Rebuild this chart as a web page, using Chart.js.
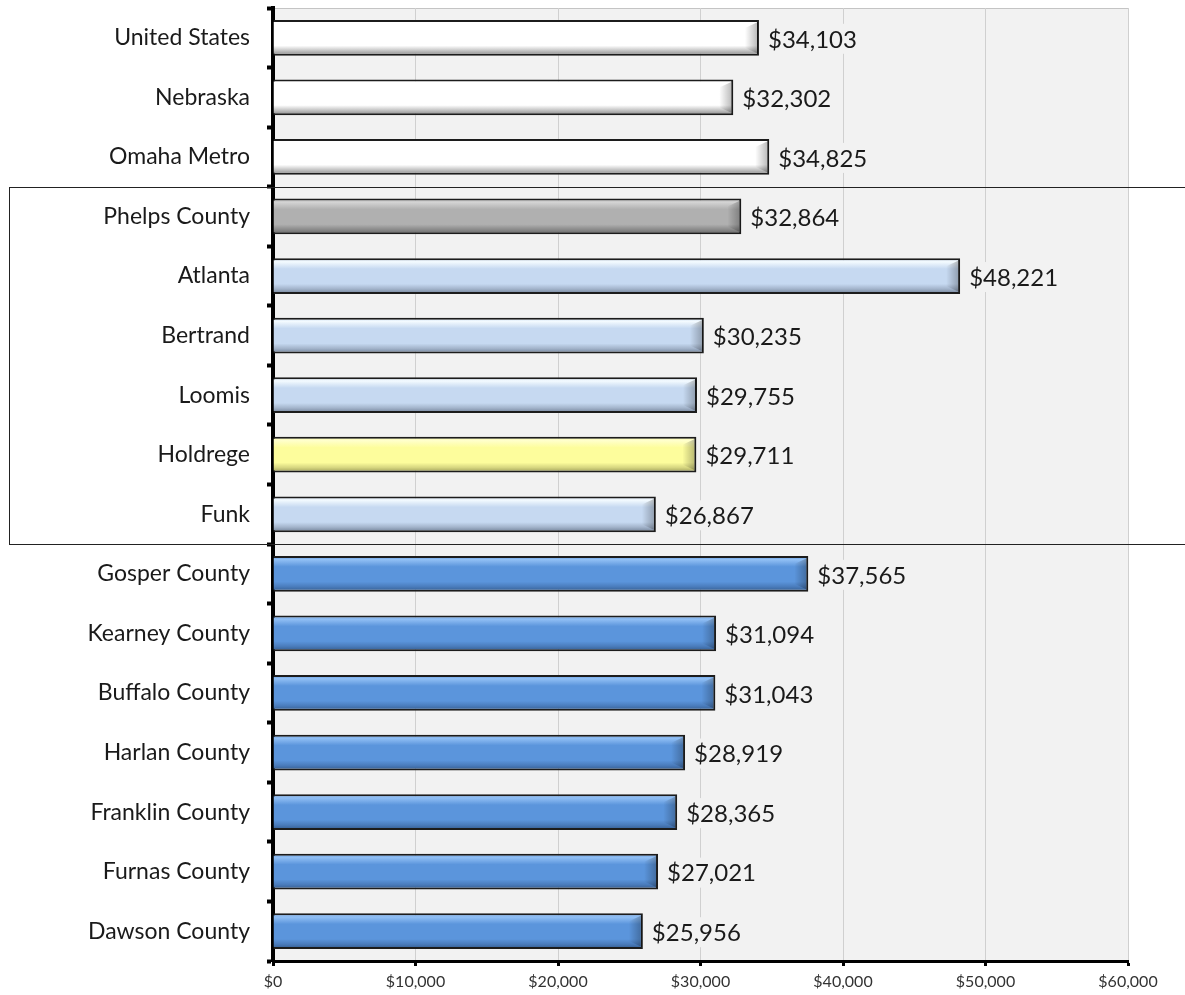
<!DOCTYPE html>
<html>
<head>
<meta charset="utf-8">
<script src="https://cdn.jsdelivr.net/npm/chart.js@4"></script>
<style>
  html, body { margin: 0; padding: 0; background: #fff; }
  #wrap { width: 1185px; height: 995px; }
</style>
</head>
<body>
<div id="wrap"><canvas id="chart" width="1185" height="995"></canvas></div>
<script>
// data
const places = ['United States', 'Nebraska', 'Omaha Metro', 'Phelps County', 'Atlanta', 'Bertrand',
    'Loomis', 'Holdrege', 'Funk', 'Gosper County', 'Kearney County', 'Buffalo County',
    'Harlan County', 'Franklin County', 'Furnas County', 'Dawson County'];
const income = [34103, 32302, 34825, 32864, 48221, 30235, 29755, 29711, 26867,
    37565, 31094, 31043, 28919, 28365, 27021, 25956];
const xTicks = [0, 10000, 20000, 30000, 40000, 50000, 60000];
// which colour group each bar belongs to
const groups = ['white', 'white', 'white', 'gray', 'light', 'light', 'light', 'yellow', 'light',
    'blue', 'blue', 'blue', 'blue', 'blue', 'blue', 'blue'];
// box drawn round the Phelps county places (first and last index)
const boxFrom = 3, boxTo = 8;

const palette = {
    white:  { top: '#ffffff', main: '#ffffff', low: '#c4c4c4', bottom: '#858585' },
    gray:   { top: '#d4d4d4', main: '#b0b0b0', low: '#8c8c8c', bottom: '#666666' },
    light:  { top: '#f4fbff', main: '#c6d9f1', low: '#a3b4cb', bottom: '#6f7f95' },
    yellow: { top: '#ffffcc', main: '#fdfd9c', low: '#d6d680', bottom: '#9a9a55' },
    blue:   { top: '#92c0f5', main: '#5b95dc', low: '#4a7cbc', bottom: '#335a8c' }
};

const FONT = "Lato, 'Open Sans', sans-serif";
const BAR_PCT = 0.6;

function money(v) {
    return '$' + v.toLocaleString('en-US');
}

function barFill(ctx) {
    const chart = ctx.chart;
    const c = palette[groups[ctx.dataIndex]];
    const y = chart.scales && chart.scales.y;
    if (!y || !chart.chartArea) return c.main;
    const center = y.getPixelForValue(ctx.dataIndex);
    const half = y.height / places.length * BAR_PCT / 2;
    const g = chart.ctx.createLinearGradient(0, center - half, 0, center + half);
    g.addColorStop(0, c.main);
    g.addColorStop(0.1, c.top);
    g.addColorStop(0.3, c.main);
    g.addColorStop(0.72, c.main);
    g.addColorStop(0.86, c.low);
    g.addColorStop(1, c.bottom);
    return g;
}

// grey plot background + thin frame
const plotBg = {
    id: 'plotBg',
    beforeDraw(chart) {
        const a = chart.chartArea, ctx = chart.ctx;
        ctx.save();
        ctx.fillStyle = '#f2f2f2';
        ctx.fillRect(a.left, a.top, a.right - a.left, a.bottom - a.top);
        ctx.strokeStyle = '#c4c4c4';
        ctx.lineWidth = 1;
        ctx.beginPath();
        ctx.moveTo(a.left, a.top + 0.5);
        ctx.lineTo(a.right + 0.5, a.top + 0.5);
        ctx.lineTo(a.right + 0.5, a.bottom);
        ctx.stroke();
        ctx.restore();
    }
};

// darker bevel at the right end of each bar, then value labels
const barExtras = {
    id: 'barExtras',
    afterDatasetsDraw(chart) {
        const ctx = chart.ctx;
        const meta = chart.getDatasetMeta(0);
        ctx.save();
        meta.data.forEach((bar, i) => {
            const h = bar.height;
            const top = bar.y - h / 2 + 2, bottom = bar.y + h / 2 - 2;
            const g = ctx.createLinearGradient(bar.x - 14, 0, bar.x - 1, 0);
            g.addColorStop(0, 'rgba(0,0,0,0)');
            g.addColorStop(1, 'rgba(0,0,0,0.28)');
            ctx.fillStyle = g;
            ctx.beginPath();
            ctx.moveTo(bar.x - 14, top + 6);
            ctx.lineTo(bar.x - 1, top);
            ctx.lineTo(bar.x - 1, bottom);
            ctx.lineTo(bar.x - 14, bottom - 6);
            ctx.closePath();
            ctx.fill();

            const txt = money(income[i]);
            ctx.font = '24px ' + FONT;
            const w = ctx.measureText(txt).width;
            const tx = bar.x + 9;
            ctx.fillStyle = '#f2f2f2';
            ctx.fillRect(tx - 2, bar.y - 14, w + 4, 30);
            ctx.fillStyle = '#1a1a1a';
            ctx.textBaseline = 'middle';
            ctx.textAlign = 'left';
            ctx.fillText(txt, tx, bar.y + 2);
        });
        ctx.restore();
    }
};

// black frame round the Phelps county group
const groupBox = {
    id: 'groupBox',
    afterDraw(chart) {
        const y = chart.scales.y, ctx = chart.ctx;
        const band = y.height / places.length;
        const y1 = Math.round(y.getPixelForValue(boxFrom) - band / 2) + 0.5;
        const y2 = Math.round(y.getPixelForValue(boxTo) + band / 2) + 0.5;
        ctx.save();
        ctx.strokeStyle = '#222';
        ctx.lineWidth = 1;
        ctx.strokeRect(9.5, y1, chart.width, y2 - y1);
        ctx.restore();
    }
};

new Chart(document.getElementById('chart').getContext('2d'), {
    type: 'bar',
    data: {
        labels: places,
        datasets: [{
            data: income,
            backgroundColor: barFill,
            borderColor: '#1c1c1c',
            borderWidth: 2,
            borderSkipped: 'start',
            barPercentage: BAR_PCT,
            categoryPercentage: 1
        }]
    },
    options: {
        indexAxis: 'y',
        responsive: false,
        animation: false,
        layout: { padding: { top: 8, right: 57, left: 0, bottom: 0 } },
        plugins: {
            legend: { display: false },
            tooltip: { enabled: false }
        },
        scales: {
            x: {
                min: 0,
                max: 60000,
                afterBuildTicks(scale) {
                    scale.ticks = xTicks.map(v => ({ value: v }));
                },
                afterFit(scale) { scale.height = 34; },
                ticks: {
                    callback: v => money(v),
                    color: '#333',
                    font: { family: FONT, size: 16 },
                    padding: 6,
                    maxRotation: 0
                },
                grid: {
                    color: '#d0d0d0',
                    lineWidth: 1,
                    tickColor: '#000',
                    tickWidth: 3,
                    tickLength: 5
                },
                border: { color: '#000', width: 3 }
            },
            y: {
                afterFit(scale) {
                    scale.width = 273;
                    scale.paddingTop = 0;
                    scale.paddingBottom = 0;
                },
                ticks: {
                    color: '#1a1a1a',
                    font: { family: FONT, size: 23 },
                    padding: 17
                },
                grid: {
                    offset: true,
                    drawOnChartArea: false,
                    tickColor: '#000',
                    tickWidth: 4,
                    tickLength: 6
                },
                border: { color: '#000', width: 4 }
            }
        }
    },
    plugins: [plotBg, barExtras, groupBox]
});
</script>
</body>
</html>
